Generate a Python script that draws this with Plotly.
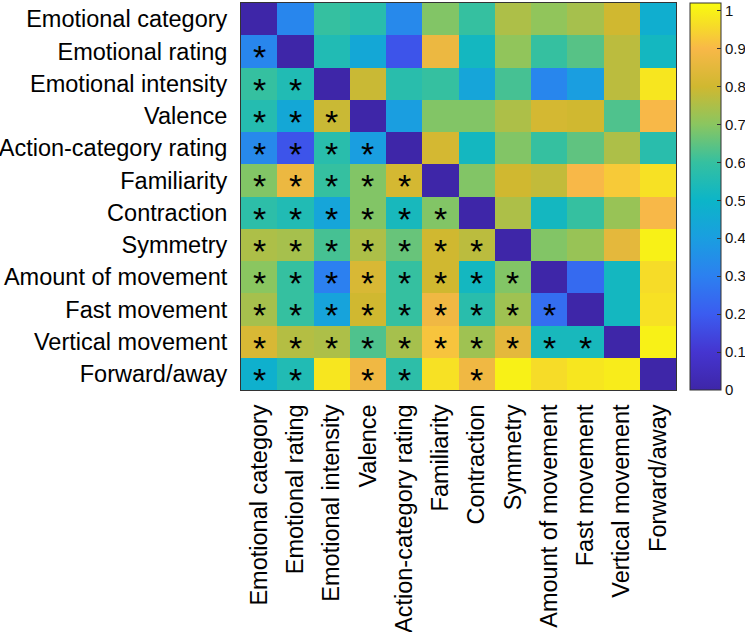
import plotly.graph_objects as go

labels = ["Emotional category", "Emotional rating", "Emotional intensity", "Valence",
          "Action-category rating", "Familiarity", "Contraction", "Symmetry",
          "Amount of movement", "Fast movement", "Vertical movement", "Forward/away"]

# rows top -> bottom, columns left -> right
row_emo_cat   = [0.00, 0.32, 0.60, 0.57, 0.33, 0.69, 0.60, 0.75, 0.71, 0.74, 0.80, 0.47]
row_emo_rate  = [0.32, 0.00, 0.55, 0.44, 0.18, 0.87, 0.52, 0.71, 0.60, 0.64, 0.77, 0.52]
row_emo_int   = [0.60, 0.55, 0.00, 0.79, 0.57, 0.60, 0.43, 0.62, 0.32, 0.40, 0.77, 0.98]
row_valence   = [0.56, 0.44, 0.79, 0.00, 0.40, 0.69, 0.69, 0.75, 0.81, 0.80, 0.63, 0.90]
row_action    = [0.33, 0.18, 0.57, 0.40, 0.00, 0.81, 0.52, 0.69, 0.60, 0.65, 0.75, 0.57]
row_famil     = [0.69, 0.87, 0.60, 0.69, 0.81, 0.00, 0.69, 0.80, 0.78, 0.90, 0.93, 0.97]
row_contr     = [0.58, 0.55, 0.43, 0.69, 0.53, 0.69, 0.00, 0.75, 0.52, 0.60, 0.72, 0.90]
row_symm      = [0.75, 0.74, 0.62, 0.75, 0.66, 0.80, 0.77, 0.00, 0.69, 0.72, 0.85, 1.00]
row_amount    = [0.70, 0.60, 0.30, 0.82, 0.60, 0.80, 0.52, 0.69, 0.00, 0.24, 0.52, 0.96]
row_fast      = [0.74, 0.60, 0.42, 0.80, 0.60, 0.88, 0.57, 0.73, 0.25, 0.00, 0.52, 0.97]
row_vertical  = [0.82, 0.76, 0.75, 0.63, 0.74, 0.92, 0.73, 0.85, 0.53, 0.53, 0.00, 1.00]
row_forward   = [0.48, 0.55, 0.98, 0.88, 0.58, 0.97, 0.88, 1.00, 0.96, 0.98, 0.99, 0.00]

z = [row_emo_cat, row_emo_rate, row_emo_int, row_valence, row_action, row_famil,
     row_contr, row_symm, row_amount, row_fast, row_vertical, row_forward]

# significance markers: row index -> list of column indices
significant = {
    1: [0], 2: [0, 1], 3: [0, 1, 2], 4: [0, 1, 2, 3], 5: [0, 1, 2, 3, 4],
    6: [0, 1, 2, 3, 4, 5], 7: [0, 1, 2, 3, 4, 5, 6], 8: [0, 1, 2, 3, 4, 5, 6, 7],
    9: [0, 1, 2, 3, 4, 5, 6, 7, 8], 10: [0, 1, 2, 3, 4, 5, 6, 7, 8, 9],
    11: [0, 1, 3, 4, 6],
}

colorbar_ticks = [0, 0.1, 0.2, 0.3, 0.4, 0.5, 0.6, 0.7, 0.8, 0.9, 1]

ZMAX = 1.02
parula_stops = [(0.0, "#3E26A8"), (0.1, "#4535D0"), (0.2, "#3B5CF0"), (0.3, "#2C80F0"),
                (0.4, "#1A9EE0"), (0.5, "#0CB5C8"), (0.6, "#35C0A0"), (0.7, "#8AC660"),
                (0.8, "#D0B830"), (0.9, "#F8B848"), (0.96, "#F6DC28"), (1.02, "#F9FB0E")]
parula = [[v / ZMAX, c] for v, c in parula_stops]

FONT = "Liberation Sans, Arial, sans-serif"

fig = go.Figure()
fig.add_trace(go.Heatmap(
    z=z, x=labels, y=labels, zmin=0, zmax=ZMAX, colorscale=parula,
    colorbar=dict(
        x=1.032, xanchor="left", xpad=0, y=0.5, yanchor="middle", len=1.0,
        lenmode="fraction", thickness=31, ypad=0, outlinewidth=1, outlinecolor="#333",
        tickvals=colorbar_ticks, ticktext=[f"{v:g}" for v in colorbar_ticks],
        ticks="inside", ticklen=4, tickcolor="#333",
        tickfont=dict(family=FONT, size=15, color="#111"),
    ),
))

annotations = []
for i, cols in significant.items():
    for j in cols:
        annotations.append(dict(
            x=labels[j], y=labels[i], text="*", showarrow=False, yshift=-6,
            font=dict(family=FONT, size=34, color="black"),
        ))

fig.update_layout(
    width=745, height=632,
    margin=dict(l=241, r=69, t=3, b=242, autoexpand=False),
    paper_bgcolor="white", plot_bgcolor="white",
    annotations=annotations,
    font=dict(family=FONT, color="black"),
)
fig.update_xaxes(
    tickangle=-90, tickfont=dict(family=FONT, size=23.5, color="black"),
    showline=True, linecolor="#333", linewidth=1, mirror=True, ticks="", showgrid=False,
    ticklabelstandoff=4, automargin=False,
)
fig.update_yaxes(
    autorange="reversed", tickfont=dict(family=FONT, size=23.5, color="black"),
    showline=True, linecolor="#333", linewidth=1, mirror=True, ticks="", showgrid=False,
    ticklabelstandoff=8, automargin=False,
)

fig.write_html(
    "out.html",
    config={"displayModeBar": False},
    post_script="document.body.style.margin='0';document.body.style.overflow='hidden';",
)
